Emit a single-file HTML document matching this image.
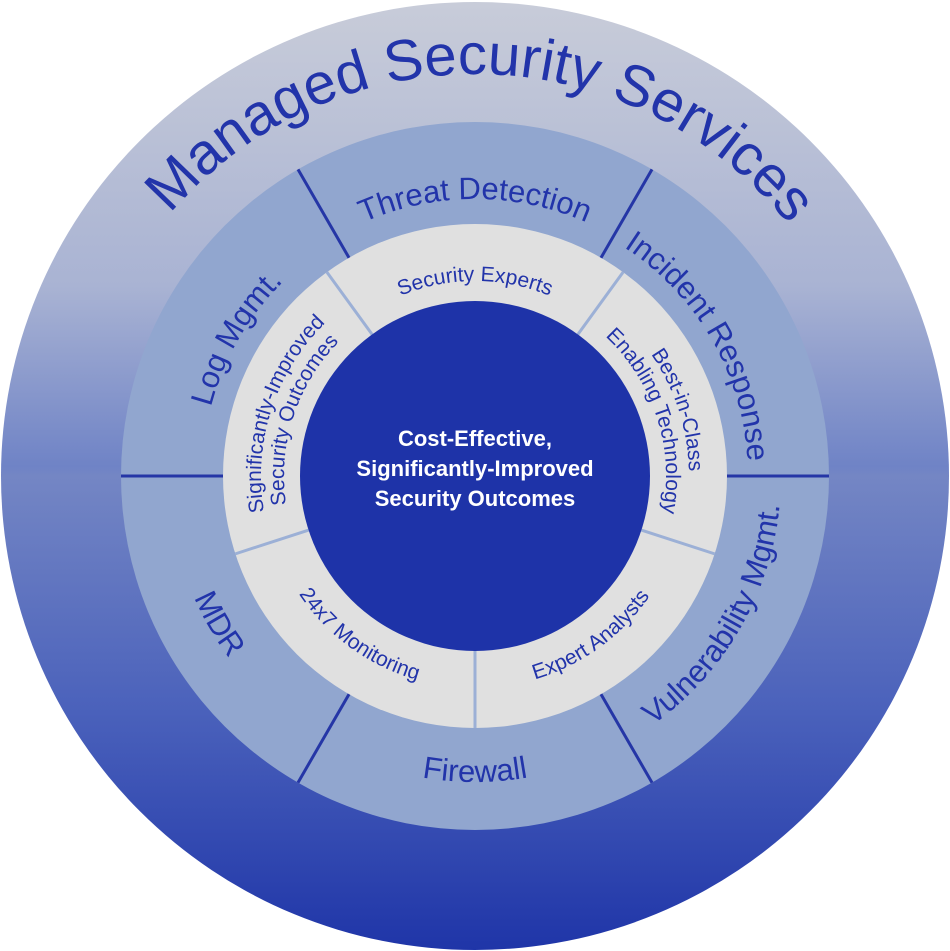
<!DOCTYPE html>
<html><head><meta charset="utf-8"><style>
html,body{margin:0;padding:0;background:#fff;}
svg{display:block;}
text{font-family:"Liberation Sans","DejaVu Sans",sans-serif;fill:#2234aa;}
</style></head><body>
<svg id="s" width="950" height="951" viewBox="0 0 950 951">
<defs>
<linearGradient id="bg" x1="0" y1="0" x2="0" y2="1">
<stop offset="0" stop-color="#c8ccd9"/>
<stop offset="0.3" stop-color="#a9b3d3"/>
<stop offset="0.49" stop-color="#6f83c6"/>
<stop offset="0.5" stop-color="#7486c4"/>
<stop offset="0.75" stop-color="#4a61bb"/>
<stop offset="1" stop-color="#1f35a8"/>
</linearGradient>
<path id="p_title"/><path id="p_td"/><path id="p_ir"/><path id="p_vm"/><path id="p_fw"/><path id="p_mdr"/><path id="p_log"/>
<path id="p_se"/><path id="p_bic1"/><path id="p_bic2"/><path id="p_ea"/><path id="p_mon"/><path id="p_si1"/><path id="p_si2"/>
</defs>
<circle cx="475" cy="476" r="474" fill="url(#bg)"/>
<circle cx="475" cy="476" r="354" fill="#91a6cf"/>
<g id="outerLines" stroke="#2536a6" stroke-width="3"></g>
<circle cx="475" cy="476" r="252" fill="#e0e0e0"/>
<g id="innerLines" stroke="#9cb0d6" stroke-width="3"></g>
<circle cx="475" cy="476" r="175" fill="#1e33a8"/>

<text font-size="58" font-weight="500"><textPath href="#p_title" startOffset="50%" text-anchor="middle">Managed Security Services</textPath></text>
<text font-size="31"><textPath href="#p_td" startOffset="50%" text-anchor="middle">Threat Detection</textPath></text>
<text font-size="31"><textPath href="#p_ir" startOffset="50%" text-anchor="middle">Incident Response</textPath></text>
<text font-size="31"><textPath href="#p_vm" startOffset="50%" text-anchor="middle">Vulnerability Mgmt.</textPath></text>
<text font-size="31"><textPath href="#p_fw" startOffset="50%" text-anchor="middle">Firewall</textPath></text>
<text font-size="31"><textPath href="#p_mdr" startOffset="50%" text-anchor="middle">MDR</textPath></text>
<text font-size="31"><textPath href="#p_log" startOffset="50%" text-anchor="middle">Log Mgmt.</textPath></text>

<text font-size="21"><textPath href="#p_se" startOffset="50%" text-anchor="middle">Security Experts</textPath></text>
<text font-size="21"><textPath href="#p_bic1" startOffset="50%" text-anchor="middle">Best-in-Class</textPath></text>
<text font-size="21"><textPath href="#p_bic2" startOffset="50%" text-anchor="middle">Enabling Technology</textPath></text>
<text font-size="21"><textPath href="#p_ea" startOffset="50%" text-anchor="middle">Expert Analysts</textPath></text>
<text font-size="21"><textPath href="#p_mon" startOffset="50%" text-anchor="middle">24x7 Monitoring</textPath></text>
<text font-size="21"><textPath href="#p_si1" startOffset="50%" text-anchor="middle">Significantly-Improved</textPath></text>
<text font-size="21"><textPath href="#p_si2" startOffset="50%" text-anchor="middle">Security Outcomes</textPath></text>

<g font-size="22" font-weight="bold" text-anchor="middle">
<text x="475" y="446" style="fill:#fff">Cost-Effective,</text>
<text x="475" y="476" style="fill:#fff">Significantly-Improved</text>
<text x="475" y="506" style="fill:#fff">Security Outcomes</text>
</g>
</svg>
<script>
var cx=475,cy=476;
function pt(a,r){var t=a*Math.PI/180;return [cx+r*Math.sin(t),cy-r*Math.cos(t)];}
function arc(id,a,r,span,top){
 var a1,a2,sw;
 if(top){a1=a-span;a2=a+span;sw=1;}else{a1=a+span;a2=a-span;sw=0;}
 var p1=pt(a1,r),p2=pt(a2,r);
 document.getElementById(id).setAttribute('d','M'+p1[0]+' '+p1[1]+' A'+r+' '+r+' 0 0 '+sw+' '+p2[0]+' '+p2[1]);
}
arc('p_title',1,402,85,true);
arc('p_td',0,277,60,true);
arc('p_ir',60,273,60,true);
arc('p_vm',120,306,60,false);
arc('p_fw',180,306,60,false);
arc('p_mdr',240,306,60,false);
arc('p_log',300,273,60,true);
arc('p_se',0,195,50,true);
arc('p_bic1',72,214,50,true);
arc('p_bic2',72,191,50,true);
arc('p_ea',144,212,50,false);
arc('p_mon',216,212,50,false);
arc('p_si1',288,214,50,true);
arc('p_si2',288,191,50,true);
function lines(g,angles,r1,r2){
 var el=document.getElementById(g);
 angles.forEach(function(a){var p=pt(a,r1),q=pt(a,r2);
  var l=document.createElementNS('http://www.w3.org/2000/svg','line');
  l.setAttribute('x1',p[0]);l.setAttribute('y1',p[1]);l.setAttribute('x2',q[0]);l.setAttribute('y2',q[1]);el.appendChild(l);});
}
lines('outerLines',[-30,30,90,150,210,270],250,354);
lines('innerLines',[36,108,180,252,324],174,252);
</script>
</body></html>
